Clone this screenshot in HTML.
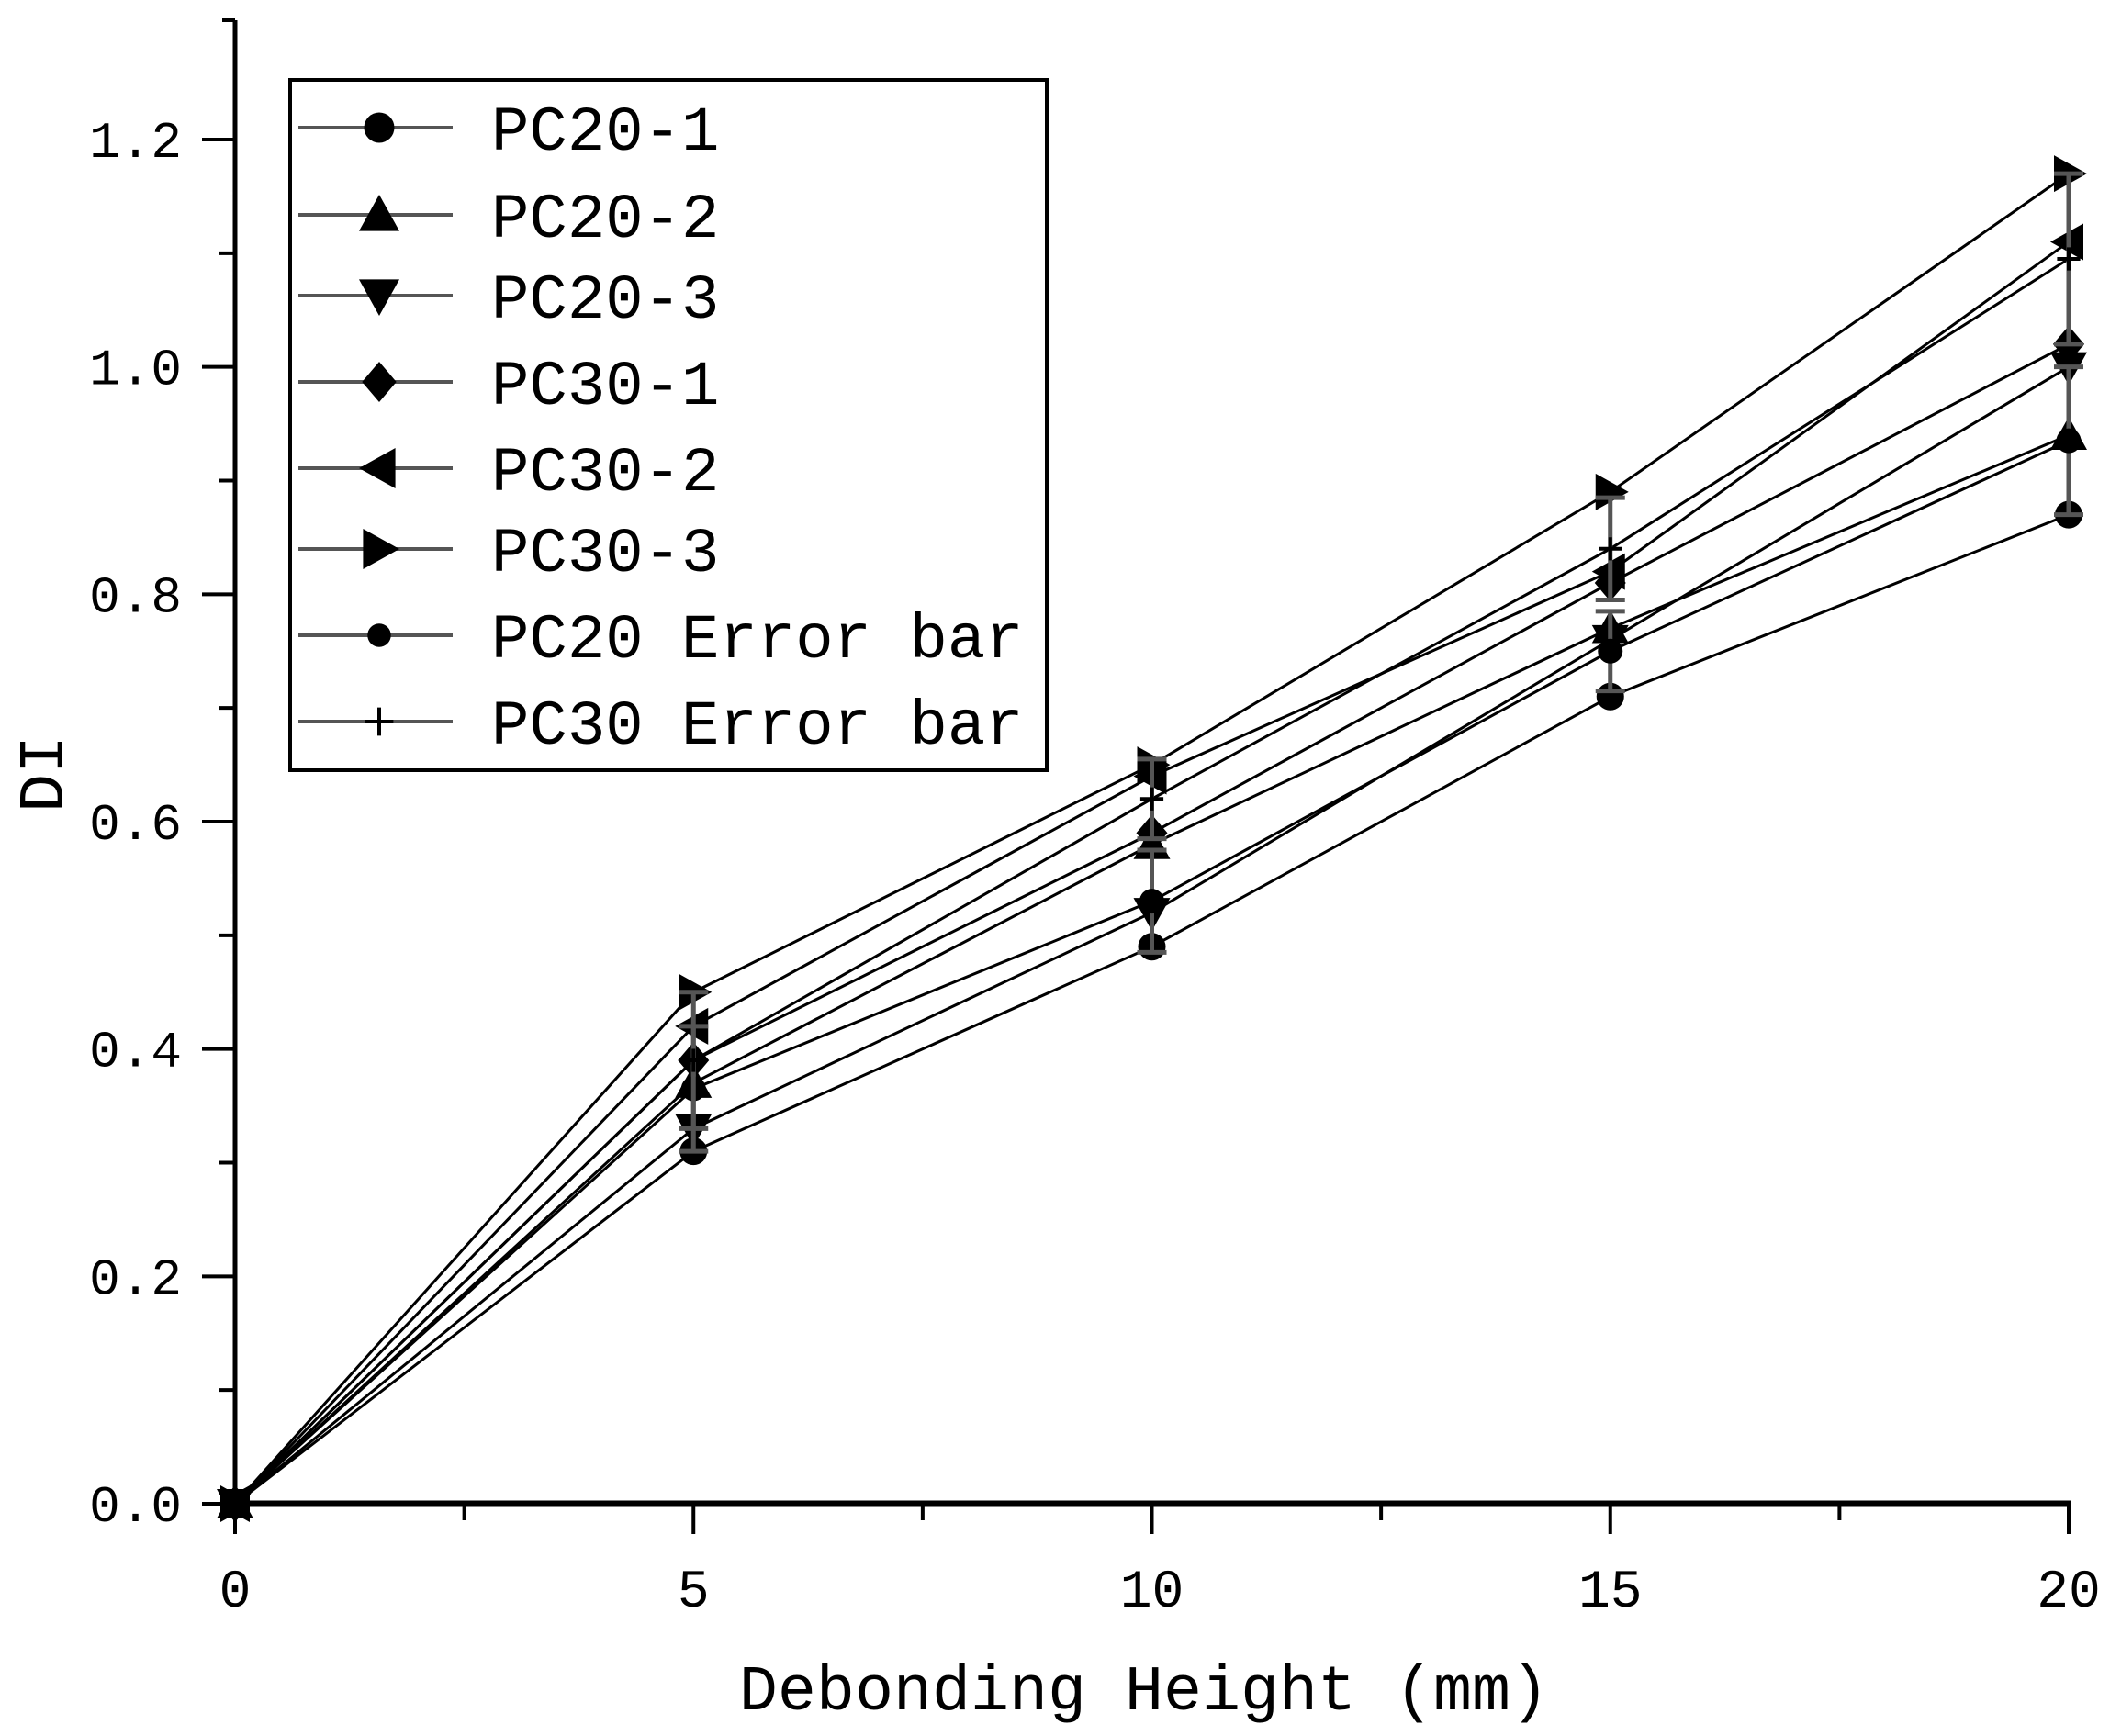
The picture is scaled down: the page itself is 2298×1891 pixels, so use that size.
<!DOCTYPE html>
<html><head><meta charset="utf-8"><style>
html,body{margin:0;padding:0;background:#fff}
svg{display:block}
text{font-family:"Liberation Mono",monospace;fill:#000}
</style></head><body>
<svg id="chart" width="2298" height="1891" viewBox="0 0 2298 1891" xmlns="http://www.w3.org/2000/svg">
<g id="axes"></g>
<g id="series"></g>
<g id="legend"></g>
</svg>
<script>
const xValues = [0, 5, 10, 15, 20];
const seriesNames = ["PC20-1","PC20-2","PC20-3","PC30-1","PC30-2","PC30-3"];
const pc20_1 = [0, 0.31, 0.49, 0.71, 0.87];
const pc20_2 = [0, 0.37, 0.58, 0.77, 0.94];
const pc20_3 = [0, 0.33, 0.52, 0.76, 1.00];
const pc30_1 = [0, 0.39, 0.59, 0.81, 1.02];
const pc30_2 = [0, 0.42, 0.64, 0.82, 1.11];
const pc30_3 = [0, 0.45, 0.65, 0.89, 1.17];
const pc20Mean = [0, 0.365, 0.53, 0.75, 0.935];
const pc20Err = [0, 0.055, 0.045, 0.035, 0.065];
const pc30Mean = [0, 0.39, 0.62, 0.84, 1.095];
const pc30Err = [0, 0.06, 0.035, 0.045, 0.075];
const xTicks = [0, 5, 10, 15, 20];
const xTickLabels = ["0","5","10","15","20"];
const yTicks = [0, 0.2, 0.4, 0.6, 0.8, 1.0, 1.2];
const yTickLabels = ["0.0","0.2","0.4","0.6","0.8","1.0","1.2"];

const NS = "http://www.w3.org/2000/svg";
const X0 = 256, X1 = 2253, Y0 = 1638, Y1 = 152;
function sx(v){ return X0 + (v - 0) / 20 * (X1 - X0); }
function sy(v){ return Y0 - v / 1.2 * (Y0 - Y1); }
function mk(tag, attrs, parent){
  const e = document.createElementNS(NS, tag);
  for (const k in attrs) e.setAttribute(k, attrs[k]);
  parent.appendChild(e);
  return e;
}
const axes = document.getElementById('axes');
const ser = document.getElementById('series');
const leg = document.getElementById('legend');

// axes lines
let ya = mk('line',{x1:X0,y1:22,x2:X0,y2:Y0+2,stroke:'#000','stroke-width':5},axes);


let xa = mk('line',{x1:X0-2,y1:Y0,x2:X1+3,y2:Y0,stroke:'#000','stroke-width':7},axes);


mk('line',{x1:X0,y1:22,x2:X0-14,y2:22,stroke:'#000','stroke-width':4},axes);

// y ticks
yTicks.forEach((v,i)=>{
  const t = mk('line',{x1:X0-36,y1:sy(v),x2:X0,y2:sy(v),stroke:'#000','stroke-width':4},axes);
  
  
  const lb = mk('text',{x:X0-58,y:sy(v)+19,'font-size':56,'text-anchor':'end'},axes);
  lb.textContent = yTickLabels[i];
  
  
  if (i < yTicks.length-1){
    const m = mk('line',{x1:X0-18,y1:sy(v+0.1),x2:X0,y2:sy(v+0.1),stroke:'#000','stroke-width':4},axes);
    
    
  }
});
// x ticks
xTicks.forEach((v,i)=>{
  const t = mk('line',{x1:sx(v),y1:Y0,x2:sx(v),y2:Y0+33,stroke:'#000','stroke-width':4},axes);
  
  
  const lb = mk('text',{x:sx(v),y:1750,'font-size':58,'text-anchor':'middle'},axes);
  lb.textContent = xTickLabels[i];
  
  
  if (i < xTicks.length-1){
    const m = mk('line',{x1:sx(v+2.5),y1:Y0,x2:sx(v+2.5),y2:Y0+18,stroke:'#000','stroke-width':4},axes);
    
    
  }
});
const xt = mk('text',{x:1246,y:1862,'font-size':70,'text-anchor':'middle'},axes);
xt.textContent = 'Debonding Height (mm)';


const yt = mk('text',{x:0,y:0,'font-size':70,'text-anchor':'middle',transform:'translate(68,843) rotate(-90)'},axes);
yt.textContent = 'DI';



function marker(shape, x, y, r, parent){
  let e;
  if (shape==='circle') e = mk('circle',{cx:x,cy:y,r:r*0.75,fill:'#000'},parent);
  else if (shape==='up') e = mk('polygon',{points:`${x},${y-r} ${x+r},${y+r*0.8} ${x-r},${y+r*0.8}`,fill:'#000'},parent);
  else if (shape==='down') e = mk('polygon',{points:`${x},${y+r} ${x+r},${y-r*0.8} ${x-r},${y-r*0.8}`,fill:'#000'},parent);
  else if (shape==='diamond') e = mk('polygon',{points:`${x},${y-r} ${x+r*0.85},${y} ${x},${y+r} ${x-r*0.85},${y}`,fill:'#000'},parent);
  else if (shape==='left') e = mk('polygon',{points:`${x-r},${y} ${x+r*0.8},${y-r} ${x+r*0.8},${y+r}`,fill:'#000'},parent);
  else if (shape==='right') e = mk('polygon',{points:`${x+r},${y} ${x-r*0.8},${y-r} ${x-r*0.8},${y+r}`,fill:'#000'},parent);
  else if (shape==='plus'){
    e = mk('path',{d:`M${x-r*0.7},${y}H${x+r*0.7}M${x},${y-r*0.7}V${y+r*0.7}`,stroke:'#000','stroke-width':4,fill:'none'},parent);
  }
  return e;
}

const allSeries = [pc20_1, pc20_2, pc20_3, pc30_1, pc30_2, pc30_3];
const shapes = ['circle','up','down','diamond','left','right'];
allSeries.forEach((vals, si)=>{
  const g = mk('g',{},ser);
  
  
  const d = vals.map((v,i)=>(i?'L':'M')+sx(xValues[i])+','+sy(v)).join('');
  mk('path',{d:d,stroke:'#000','stroke-width':3,fill:'none'},g);
  vals.forEach((v,i)=>{
    const m = marker(shapes[si], sx(xValues[i]), sy(v), 20, g);
    
    
  });
});
function errSeries(mean, err, shape, name){
  const g = mk('g',{},ser);
  
  
  const d = mean.map((v,i)=>(i?'L':'M')+sx(xValues[i])+','+sy(v)).join('');
  mk('path',{d:d,stroke:'#000','stroke-width':3,fill:'none'},g);
  mean.forEach((v,i)=>{
    const x = sx(xValues[i]);
    if (err[i] > 0){
      const b = mk('path',{d:`M${x},${sy(v-err[i])}V${sy(v+err[i])}M${x-16},${sy(v-err[i])}H${x+16}M${x-16},${sy(v+err[i])}H${x+16}`,stroke:'#555','stroke-width':5,fill:'none'},g);
      
      
    }
    const m = marker(shape, x, sy(v), 18, g);
    
    
  });
}
errSeries(pc20Mean, pc20Err, 'circle', 'series-pc20-error-bar');
errSeries(pc30Mean, pc30Err, 'plus', 'series-pc30-error-bar');

// legend
const box = mk('rect',{x:316,y:87,width:824,height:752,fill:'#fff',stroke:'#000','stroke-width':4},leg);


const legNames = seriesNames.concat(['PC20 Error bar','PC30 Error bar']);
const legShapes = shapes.concat(['circle','plus']);
const legY = [139,234,322,416,510,598,692,786];
legNames.forEach((n,i)=>{
  const g = mk('g',{},leg);
  
  
  mk('line',{x1:325,y1:legY[i],x2:493,y2:legY[i],stroke:'#555','stroke-width':4},g);
  marker(legShapes[i], 413, legY[i], i===6?17:22, g);
  const t = mk('text',{x:535,y:legY[i]+24,'font-size':69},g);
  t.textContent = n;
});
</script>
</body></html>
